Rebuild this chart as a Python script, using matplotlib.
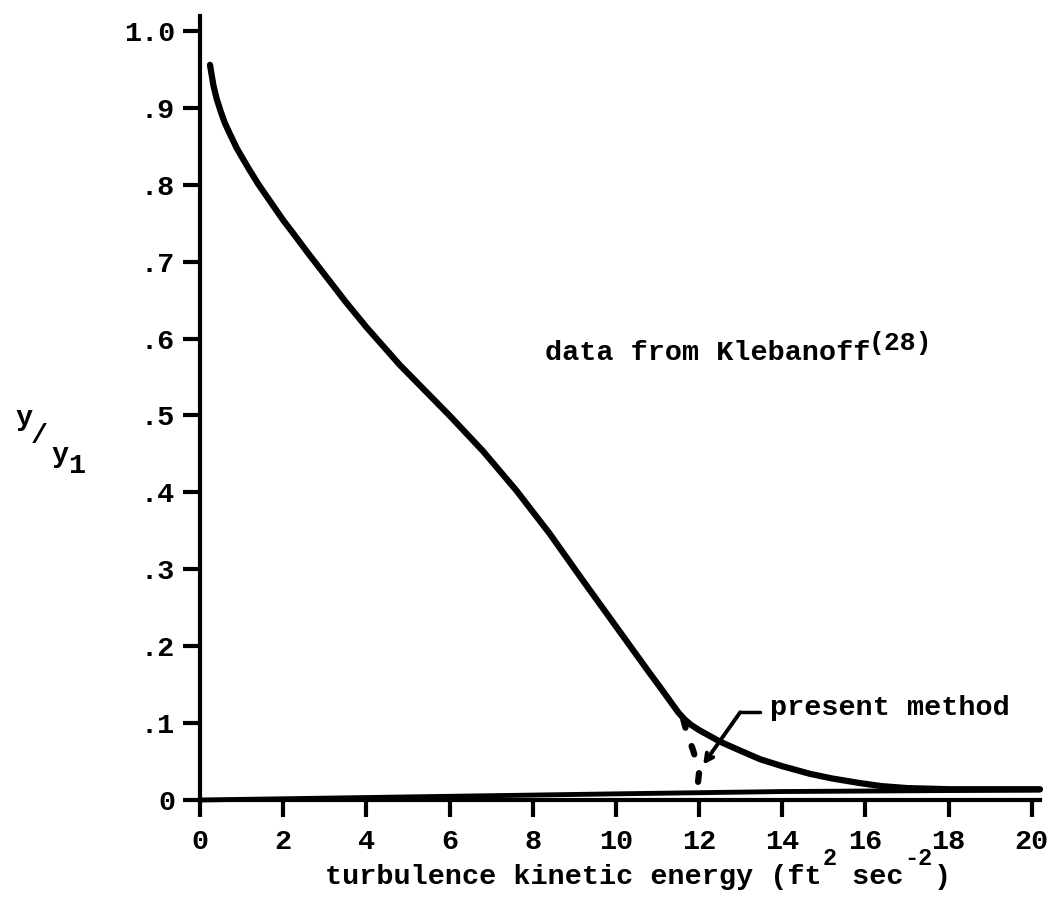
import matplotlib
matplotlib.use("Agg")
import matplotlib.pyplot as plt

# ---------------- data ----------------
# main curve: data from Klebanoff
main_x = [0.24, 0.32, 0.40, 0.5, 0.6, 0.72, 0.89, 1.16, 1.4, 1.68, 2.0, 2.24,
          2.6, 3.0, 3.5, 4.0, 4.8, 5.6, 6.0, 6.8, 7.6, 8.4, 9.2, 9.8, 10.4,
          10.8, 11.06, 11.3, 11.5, 11.65, 11.8, 12.0, 12.5, 13.0, 13.47, 14.0,
          14.67, 15.2, 15.87, 16.4, 17.0, 18.0, 19.0, 20.2]
main_y = [0.956, 0.930, 0.912, 0.895, 0.880, 0.866, 0.847, 0.822, 0.801, 0.779,
          0.754, 0.737, 0.711, 0.683, 0.648, 0.615, 0.566, 0.522, 0.500, 0.454,
          0.403, 0.347, 0.286, 0.241, 0.196, 0.166, 0.147, 0.129, 0.114, 0.105,
          0.098, 0.091, 0.076, 0.064, 0.053, 0.044, 0.034, 0.028, 0.022, 0.018,
          0.0155, 0.014, 0.014, 0.014]

# dashed branch (present method)
dash_x = [11.62, 11.72, 11.85, 11.95, 12.0, 11.96, 11.94]
dash_y = [0.105, 0.085, 0.066, 0.048, 0.035, 0.015, 0.0]

# near-zero line
low_x = [0.0, 5.0, 10.0, 14.0, 20.2]
low_y = [0.0, 0.004, 0.008, 0.011, 0.013]

x_ticks = [0, 2, 4, 6, 8, 10, 12, 14, 16, 18, 20]
x_ticklabels = ["0", "2", "4", "6", "8", "10", "12", "14", "16", "18", "20"]
y_ticks = [0, 0.1, 0.2, 0.3, 0.4, 0.5, 0.6, 0.7, 0.8, 0.9, 1.0]
y_ticklabels = ["0", ".1", ".2", ".3", ".4", ".5", ".6", ".7", ".8", ".9", "1.0"]

# annotation anchors
arrow_tip = (12.1, 0.046)
arrow_elbow = (12.99, 0.114)
leader_end = (13.47, 0.114)
label_present = (13.71, 0.110)
label_kleb = (8.3, 0.572)

# ---------------- style ----------------
FONT = ["Liberation Mono", "DejaVu Sans Mono"]
FS = 20.5
SUP = 17
W, H = 1053, 901
plt.rcParams["font.family"] = FONT
plt.rcParams["font.weight"] = "bold"

fig = plt.figure(figsize=(W / 100, H / 100), dpi=100)
ax = fig.add_axes([200 / W, 1 - 800 / H, 840 / W, 784 / H])


def px(x, y):
    return x / W, 1 - y / H


LW = 4.5
ax.plot(main_x, main_y, color="black", lw=LW, solid_capstyle="round",
        solid_joinstyle="round", clip_on=False)
ax.plot(dash_x, dash_y, color="black", lw=LW, linestyle=(0, (1.4, 3.1)),
        dash_capstyle="round", clip_on=False)
ax.plot(low_x, low_y, color="black", lw=3.5, solid_capstyle="round",
        clip_on=False)

ax.set_xlim(0, 20.2)
ax.set_ylim(0, 1.0195)
for s in ["top", "right"]:
    ax.spines[s].set_visible(False)
for s in ["left", "bottom"]:
    ax.spines[s].set_linewidth(3)

ax.set_xticks(x_ticks)
ax.set_xticklabels(x_ticklabels)
ax.set_yticks(y_ticks)
ax.set_yticklabels(y_ticklabels)
ax.tick_params(axis="both", direction="out", length=12, width=3,
               labelsize=FS)
ax.tick_params(axis="x", pad=9)
ax.tick_params(axis="y", pad=6)
for lab in ax.get_xticklabels() + ax.get_yticklabels():
    lab.set_fontweight("bold")

# present method annotation
ax.plot([arrow_elbow[0], leader_end[0]], [arrow_elbow[1], leader_end[1]],
        color="black", lw=2.5, solid_capstyle="round")
ax.annotate("", xy=arrow_tip, xytext=arrow_elbow,
            arrowprops=dict(arrowstyle="->,head_length=0.55,head_width=0.28",
                            lw=2.8, color="black", shrinkA=0, shrinkB=0))
ax.text(label_present[0], label_present[1], "present method", fontsize=FS,
        fontweight="bold", ha="left", va="baseline")

# Klebanoff label with superscript
t_k = ax.text(label_kleb[0], label_kleb[1], "data from Klebanoff", fontsize=FS,
              fontweight="bold", ha="left", va="baseline")
fig.canvas.draw()
r = fig.canvas.get_renderer()
bb = t_k.get_window_extent(r)
fig.text((bb.x1 - 2) / W, (bb.y0 + 11) / H, "(28)", fontsize=19,
         fontweight="bold", ha="left", va="bottom")

# x label with superscripts
base_y = 884
sup_y = 865
t1 = fig.text(*px(325, base_y), "turbulence kinetic energy (ft", fontsize=FS,
              fontweight="bold", ha="left", va="baseline")
fig.canvas.draw()
bb1 = t1.get_window_extent(r)
s1 = fig.text((bb1.x1 + 1) / W, px(0, sup_y)[1], "2", fontsize=SUP,
              fontweight="bold", ha="left", va="baseline")
fig.canvas.draw()
bb2 = s1.get_window_extent(r)
t2 = fig.text((bb2.x1 - 2) / W, px(0, base_y)[1], " sec", fontsize=FS,
              fontweight="bold", ha="left", va="baseline")
fig.canvas.draw()
bb3 = t2.get_window_extent(r)
s2 = fig.text((bb3.x1 + 1) / W, px(0, sup_y)[1], "-2", fontsize=SUP,
              fontweight="bold", ha="left", va="baseline")
fig.canvas.draw()
bb4 = s2.get_window_extent(r)
fig.text((bb4.x1 + 1) / W, px(0, base_y)[1], ")", fontsize=FS,
         fontweight="bold", ha="left", va="baseline")

# y label  y/y1
fig.text(*px(24, 418), "y", fontsize=FS, fontweight="bold", ha="center", va="center")
fig.text(*px(39, 436), "/", fontsize=FS, fontweight="bold", ha="center", va="center")
fig.text(*px(60, 455), "y", fontsize=FS, fontweight="bold", ha="center", va="center")
fig.text(*px(77, 466), "1", fontsize=FS, fontweight="bold", ha="center", va="center")

fig.savefig("out.png", dpi=100)
